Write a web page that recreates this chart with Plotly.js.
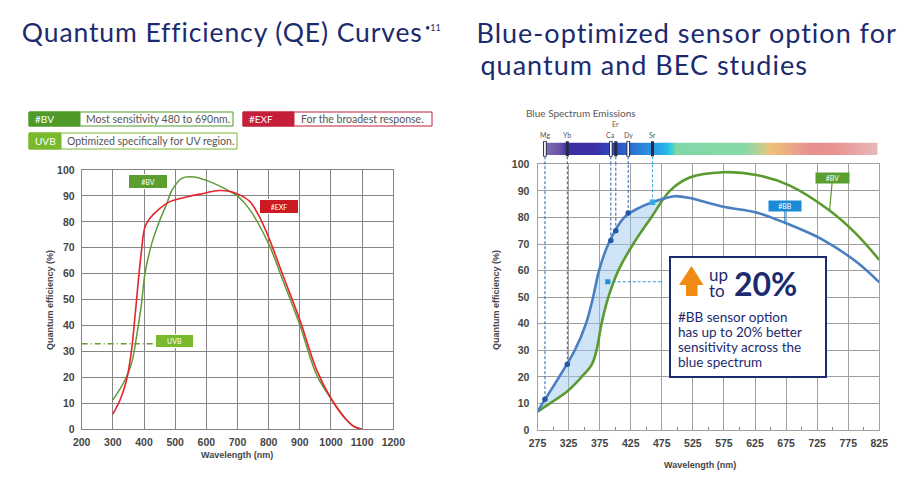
<!DOCTYPE html>
<html><head><meta charset="utf-8">
<script src="https://cdn.plot.ly/plotly-3.0.1.min.js"></script>
<style>html,body{margin:0;padding:0;background:#fff}#chart{width:909px;height:482px}</style>
</head><body><div id="chart"></div>
<script>
// ---------- DATA ----------
// Left chart: Quantum Efficiency curves
const leftBvWl  = [300, 320, 339, 360, 376, 392, 403, 425, 451, 473, 489, 521, 560, 600, 640, 680, 700, 740, 800, 847, 900, 954, 1002, 1050, 1075, 1100];
const leftBvQe  = [11.3, 15, 19, 25.5, 35.7, 48.6, 60, 71.7, 80.7, 87, 92, 96.8, 97.3, 96, 94, 91.5, 90, 84.6, 71.5, 57, 40.2, 21, 11.5, 3.6, 1, 0];
const leftExfWl = [300, 323, 344, 360, 371, 382, 392, 403, 419, 451, 483, 515, 550, 580, 633, 660, 681, 708, 740, 770, 800, 847, 900, 954, 1002, 1050, 1075, 1100];
const leftExfQe = [5.9, 11.3, 19, 30.6, 43.4, 57.6, 69, 78, 81.4, 85.2, 87.8, 89, 90, 90.7, 92, 92, 91.6, 90.3, 87.8, 82, 74, 59, 42.2, 22.9, 11.5, 3.6, 1, 0];
const uvbLineWl = [200, 435];
const uvbLevel  = 33;

// Right chart: #BB vs #BV
const rightBbWl = [275, 283, 310, 335, 353, 364.5, 374, 389, 414.6, 440, 460, 477, 496, 520, 574, 627, 673, 735, 788, 825];
const rightBbQe = [6.9, 10, 20, 30, 40, 50, 60, 70, 80, 83.8, 85.7, 87, 88, 87.3, 84, 81.9, 78, 71.5, 63.3, 55.6];
const rightBvWl = [275, 295, 324, 346, 362, 370, 378, 389, 405, 429, 458, 488, 520, 574, 627, 681, 745, 787, 825];
const rightBvQe = [6.9, 10, 14.8, 20, 24.5, 30, 40, 50, 60, 70, 80, 90, 95, 97, 96, 92, 82.6, 74, 64];
const fillUpToWl = 478;

// Emission lines
const elementNames = ['Mg', 'Yb', 'Ca', 'Er', 'Dy', 'Sr'];
const elementWl    = [287, 323, 393, 401, 421, 460];
const elementQe    = [11.6, 24.7, 71.3, 75, 81.7, 85.7];
const spectrumWl   = [287, 822];
const highlightWl  = [388, 477];
const highlightQe  = 55.8;

// Tick labels
const leftXTicks  = [200, 300, 400, 500, 600, 700, 800, 900, 1000, 1100, 1200];
const rightXTicks = [275, 325, 375, 425, 475, 525, 575, 625, 675, 725, 775, 825];
const yTicks      = [0, 10, 20, 30, 40, 50, 60, 70, 80, 90, 100];

// Texts
const boxLines = ['#BB sensor option', 'has up to 20% better', 'sensitivity across the', 'blue spectrum'];

// ---------- HELPERS ----------
const W = 909, H = 482;
const px = x => x / W;
const py = y => 1 - y / H;
const NAVY = '#1c2a6e';
const BODY = 'Lato, "Noto Sans", sans-serif';
const tickFont = {family: '"Liberation Sans", Arial, sans-serif', size: 10.5, color: '#454545', weight: 'bold'};

const lDom = {x: [px(81.7), px(393.3)], y: [py(429.3), py(170)]};
const rDom = {x: [px(537.5), px(879.3)], y: [py(430), py(164.3)]};

// ---------- TRACES ----------
const bvFillX = [], bvFillY = [], bbFillX = [], bbFillY = [];
rightBvWl.forEach((w, i) => { if (w <= fillUpToWl) { bvFillX.push(w); bvFillY.push(rightBvQe[i]); } });
rightBbWl.forEach((w, i) => { if (w <= fillUpToWl) { bbFillX.push(w); bbFillY.push(rightBbQe[i]); } });

const traces = [
  {x: leftBvWl, y: leftBvQe, xaxis: 'x', yaxis: 'y', mode: 'lines', line: {color: '#5f9a38', width: 1.5, shape: 'spline'}, hoverinfo: 'skip'},
  {x: leftExfWl, y: leftExfQe, xaxis: 'x', yaxis: 'y', mode: 'lines', line: {color: '#e5242b', width: 1.6, shape: 'spline'}, hoverinfo: 'skip'},
  {x: uvbLineWl, y: uvbLineWl.map(() => uvbLevel), xaxis: 'x', yaxis: 'y', mode: 'lines', line: {color: '#6a9a32', width: 1.3, dash: '6px,3px,1px,3px'}, hoverinfo: 'skip'},

  {x: bvFillX, y: bvFillY, xaxis: 'x2', yaxis: 'y2', mode: 'lines', line: {width: 0, shape: 'spline'}, hoverinfo: 'skip'},
  {x: bbFillX, y: bbFillY, xaxis: 'x2', yaxis: 'y2', mode: 'lines', line: {width: 0, shape: 'spline'}, fill: 'tonexty', fillcolor: 'rgba(150,195,238,0.45)', hoverinfo: 'skip'},
  {x: rightBvWl, y: rightBvQe, xaxis: 'x2', yaxis: 'y2', mode: 'lines', line: {color: '#5a9a2e', width: 2.6, shape: 'spline'}, hoverinfo: 'skip'},
  {x: rightBbWl, y: rightBbQe, xaxis: 'x2', yaxis: 'y2', mode: 'lines', line: {color: '#4a7fc1', width: 2.6, shape: 'spline'}, hoverinfo: 'skip'},
  {x: highlightWl, y: highlightWl.map(() => highlightQe), xaxis: 'x2', yaxis: 'y2', mode: 'lines', line: {color: '#2a9ae0', width: 1, dash: '3px,2px'}, hoverinfo: 'skip'},
  {x: [highlightWl[0]], y: [highlightQe], xaxis: 'x2', yaxis: 'y2', mode: 'markers', marker: {symbol: 'square', size: 5, color: '#1f8fd8'}, hoverinfo: 'skip'},
  {x: elementWl, y: elementQe, xaxis: 'x2', yaxis: 'y2', mode: 'markers',
   marker: {size: 5.5, symbol: elementNames.map(n => n === 'Sr' ? 'square' : 'circle'),
            color: elementNames.map(n => n === 'Sr' ? '#3aaae2' : '#2358a8')}, hoverinfo: 'skip'},

  {x: [spectrumWl[0], spectrumWl[1], spectrumWl[1], spectrumWl[0], spectrumWl[0]], y: [0, 0, 1, 1, 0],
   xaxis: 'x3', yaxis: 'y3', mode: 'lines', line: {width: 0}, fill: 'toself',
   fillgradient: {type: 'horizontal', colorscale: [
     [0, '#7f6fad'], [0.04, '#6a58a8'], [0.07, '#3e2ea0'], [0.15, '#3a2fa8'], [0.2, '#3048c0'],
     [0.25, '#2a68cc'], [0.3, '#2a8ade'], [0.35, '#2aa6e6'], [0.37, '#22c0ea'], [0.385, '#50d0c0'],
     [0.395, '#80d8a8'], [0.6, '#88d8a8'], [0.65, '#c0d090'], [0.68, '#f0c078'], [0.74, '#eaa888'],
     [0.8, '#e69090'], [0.87, '#e89292'], [1, '#e8b8b8']]},
   hoverinfo: 'skip'}
];

// ---------- SHAPES ----------
const shapes = [];
const rect = (x0, y0, x1, y1, fill, line, lw) => ({type: 'rect', xref: 'paper', yref: 'paper', x0: px(x0), x1: px(x1), y0: py(y1), y1: py(y0), fillcolor: fill, line: {color: line, width: lw || 1}, layer: 'above'});

// legend boxes
shapes.push(rect(29, 112, 233, 126, '#ffffff', '#4f9a28'));
shapes.push(rect(29, 112, 80, 126, '#4f9a28', '#4f9a28'));
shapes.push(rect(243, 112, 432, 126, '#ffffff', '#c41e3a'));
shapes.push(rect(243, 112, 294, 126, '#c41e3a', '#c41e3a'));
shapes.push(rect(29, 133, 237, 149, '#ffffff', '#7ab82c'));
shapes.push(rect(29, 133, 61, 149, '#7ab82c', '#7ab82c'));

// dashed emission lines
elementNames.forEach((n, i) => {
  const c = n === 'Sr' ? '#3aa6e2' : '#2b5caa';
  shapes.push({type: 'line', xref: 'x2', yref: 'y2', x0: elementWl[i], x1: elementWl[i], y0: elementQe[i], y1: 100, line: {color: c, width: 1, dash: '3px,2px'}, layer: 'above'});
  shapes.push({type: 'line', xref: 'x2', yref: 'paper', x0: elementWl[i], x1: elementWl[i], y0: rDom.y[1], y1: py(157), line: {color: c, width: 1, dash: '3px,2px'}, layer: 'above'});
  const hollow = (n === 'Mg' || n === 'Ca' || n === 'Dy');
  if (hollow) {
    shapes.push({type: 'rect', xref: 'x3', yref: 'y3', x0: elementWl[i] - 2.2, x1: elementWl[i] + 2.2, y0: -0.12, y1: 1.12, fillcolor: '#ffffff', line: {color: '#232a48', width: 1}, layer: 'above'});
  } else {
    shapes.push({type: 'line', xref: 'x3', yref: 'y3', x0: elementWl[i], x1: elementWl[i], y0: -0.12, y1: 1.12, line: {color: '#232a48', width: 3}, layer: 'above'});
  }
});

// highlight text box
shapes.push(rect(670, 257, 826, 377, '#ffffff', NAVY, 2));
// orange arrow
const ap = [[691.5, 266], [703.5, 285], [697.5, 285], [697.5, 296], [686, 296], [686, 285], [679, 285]];
shapes.push({type: 'path', xref: 'paper', yref: 'paper', layer: 'above', fillcolor: '#f08a12', line: {width: 0},
  path: 'M' + ap.map(p => px(p[0]).toFixed(5) + ',' + py(p[1]).toFixed(5)).join('L') + 'Z'});

// ---------- ANNOTATIONS ----------
const ann = [];
const txt = (x, y, text, size, color, opts) => Object.assign({xref: 'paper', yref: 'paper', x: px(x), y: py(y), text, showarrow: false, xanchor: 'left', yanchor: 'middle', font: {family: BODY, size, color}}, opts || {});

// titles: centred so the extra letter spacing grows symmetrically
const spaced = {};
spaced[ann.length] = '0.9px'; ann.push(txt(222.5, 32, 'Quantum Efficiency (QE) Curves', 26.5, NAVY, {xanchor: 'center'}));
ann.push(txt(423, 27, '•11', 9, NAVY));
spaced[ann.length] = '1.0px'; ann.push(txt(686.5, 32.5, 'Blue-optimized sensor option for', 27, NAVY, {xanchor: 'center'}));
spaced[ann.length] = '1.0px'; ann.push(txt(643.5, 64.5, 'quantum and BEC studies', 27, NAVY, {xanchor: 'center'}));

ann.push(txt(33, 119, '#BV', 10, '#ffffff'));
ann.push(txt(84, 119, 'Most sensitivity 480 to 690nm.', 10.5, '#555555'));
ann.push(txt(247, 119, '#EXF', 10, '#ffffff'));
ann.push(txt(299, 119, 'For the broadest response.', 10.5, '#555555'));
ann.push(txt(33, 141, 'UVB', 10, '#ffffff'));
ann.push(txt(65, 141, 'Optimized specifically for UV region.', 10.5, '#555555'));

const tag = (x0, y0, x1, y1, text, bg) => txt((x0 + x1) / 2, (y0 + y1) / 2, text, 7, '#ffffff',
  {xanchor: 'center', bgcolor: bg, width: x1 - x0 - 2, height: y1 - y0 - 2, borderpad: 0, bordercolor: '#ffffff', borderwidth: 1});
ann.push(tag(128, 174, 168, 189, '#BV', '#5a9e2e'));
ann.push(tag(259, 199, 299, 214, '#EXF', '#cc1a22'));
ann.push(tag(155, 334, 194, 348, 'UVB', '#7ab82c'));

// right tags with connector lines
ann.push({xref: 'x2', yref: 'y2', x: 673, y: 78, text: '#BB', showarrow: true, arrowhead: 0, arrowwidth: 1.2, arrowcolor: '#1d8ad6', ax: 0, ay: -17, standoff: 0,
  bgcolor: '#1d8ad6', width: 32, height: 10, borderpad: 0, font: {family: BODY, size: 7, color: '#ffffff'}});
ann.push({xref: 'x2', yref: 'y2', x: 745, y: 82.6, text: '#BV', showarrow: true, arrowhead: 0, arrowwidth: 1.2, arrowcolor: '#5a9a2e', ax: 3, ay: -33, standoff: 0,
  bgcolor: '#5a9e2e', width: 33, height: 10, borderpad: 0, font: {family: BODY, size: 7, color: '#ffffff'}});

// axis titles
const axTitle = {family: '"Liberation Sans", Arial, sans-serif', size: 9, color: '#454545', weight: 'bold'};
const ctr = {xanchor: 'center', yanchor: 'middle'};
ann.push(Object.assign({xref: 'paper', yref: 'paper', x: px(237), y: py(455), text: 'Wavelength (nm)', showarrow: false, font: axTitle}, ctr));
ann.push(Object.assign({xref: 'paper', yref: 'paper', x: px(50), y: py(300), text: 'Quantum efficiency (%)', textangle: -90, showarrow: false, font: axTitle}, ctr));
ann.push(Object.assign({xref: 'paper', yref: 'paper', x: px(700), y: py(465), text: 'Wavelength (nm)', showarrow: false, font: axTitle}, ctr));
ann.push(Object.assign({xref: 'paper', yref: 'paper', x: px(496), y: py(300), text: 'Quantum efficiency (%)', textangle: -90, showarrow: false, font: axTitle}, ctr));

// spectrum
ann.push(txt(524, 112.5, 'Blue Spectrum Emissions', 10, '#555555'));
elementNames.forEach((n, i) => {
  ann.push({xref: 'x2', yref: 'paper', x: elementWl[i], y: py(n === 'Er' ? 124 : 135), text: n, showarrow: false, xanchor: 'center', yanchor: 'middle',
    font: {family: BODY, size: 7, color: '#555555'}});
});

// box texts
ann.push(txt(707, 274.5, 'up', 17, NAVY));
ann.push(txt(707, 290, 'to', 17, NAVY));
ann.push(txt(732, 283.5, '<b>20%</b>', 32, NAVY));
boxLines.forEach((t, i) => ann.push(txt(676, 317 + i * 15, t, 13.5, NAVY)));

// ---------- LAYOUT ----------
const gridL = '#858585', gridR = '#a0a0a0';
const axCommon = {showgrid: true, gridwidth: 1, linewidth: 1, showline: true, mirror: true, zeroline: false, ticks: '', tickfont: tickFont, fixedrange: true};
const layout = {
  width: W, height: H, margin: {l: 0, r: 0, t: 0, b: 0}, paper_bgcolor: '#ffffff', plot_bgcolor: '#ffffff',
  showlegend: false, font: {family: BODY},
  xaxis: Object.assign({}, axCommon, {domain: lDom.x, range: [200, 1200], tickvals: leftXTicks, gridcolor: gridL, linecolor: gridL, anchor: 'y', ticklabelstandoff: 3}),
  yaxis: Object.assign({}, axCommon, {domain: lDom.y, range: [0, 100], tickvals: yTicks, gridcolor: gridL, linecolor: gridL, anchor: 'x', ticklabelstandoff: 4}),
  xaxis2: Object.assign({}, axCommon, {domain: rDom.x, range: [275, 825], tickvals: rightXTicks, gridcolor: gridR, linecolor: gridR, anchor: 'y2', ticklabelstandoff: 3,
    minor: {tick0: 300, dtick: 50, ticks: 'inside', ticklen: 3, tickcolor: '#888888', showgrid: false}}),
  yaxis2: Object.assign({}, axCommon, {domain: rDom.y, range: [0, 100], tickvals: yTicks, gridcolor: gridR, linecolor: gridR, anchor: 'x2', ticklabelstandoff: 5}),
  xaxis3: {domain: rDom.x, range: [275, 825], visible: false, anchor: 'y3', fixedrange: true},
  yaxis3: {domain: [py(156.85), py(140.85)], range: [-0.15, 1.15], visible: false, anchor: 'x3', fixedrange: true},
  shapes: shapes,
  annotations: ann
};

Plotly.newPlot('chart', traces, layout, {displayModeBar: false, staticPlot: true}).then(gd => {
  Object.keys(spaced).forEach(idx => {
    gd.querySelectorAll('g.annotation[data-index="' + idx + '"] text').forEach(t => { t.style.letterSpacing = spaced[idx]; });
  });
});
</script></body></html>
